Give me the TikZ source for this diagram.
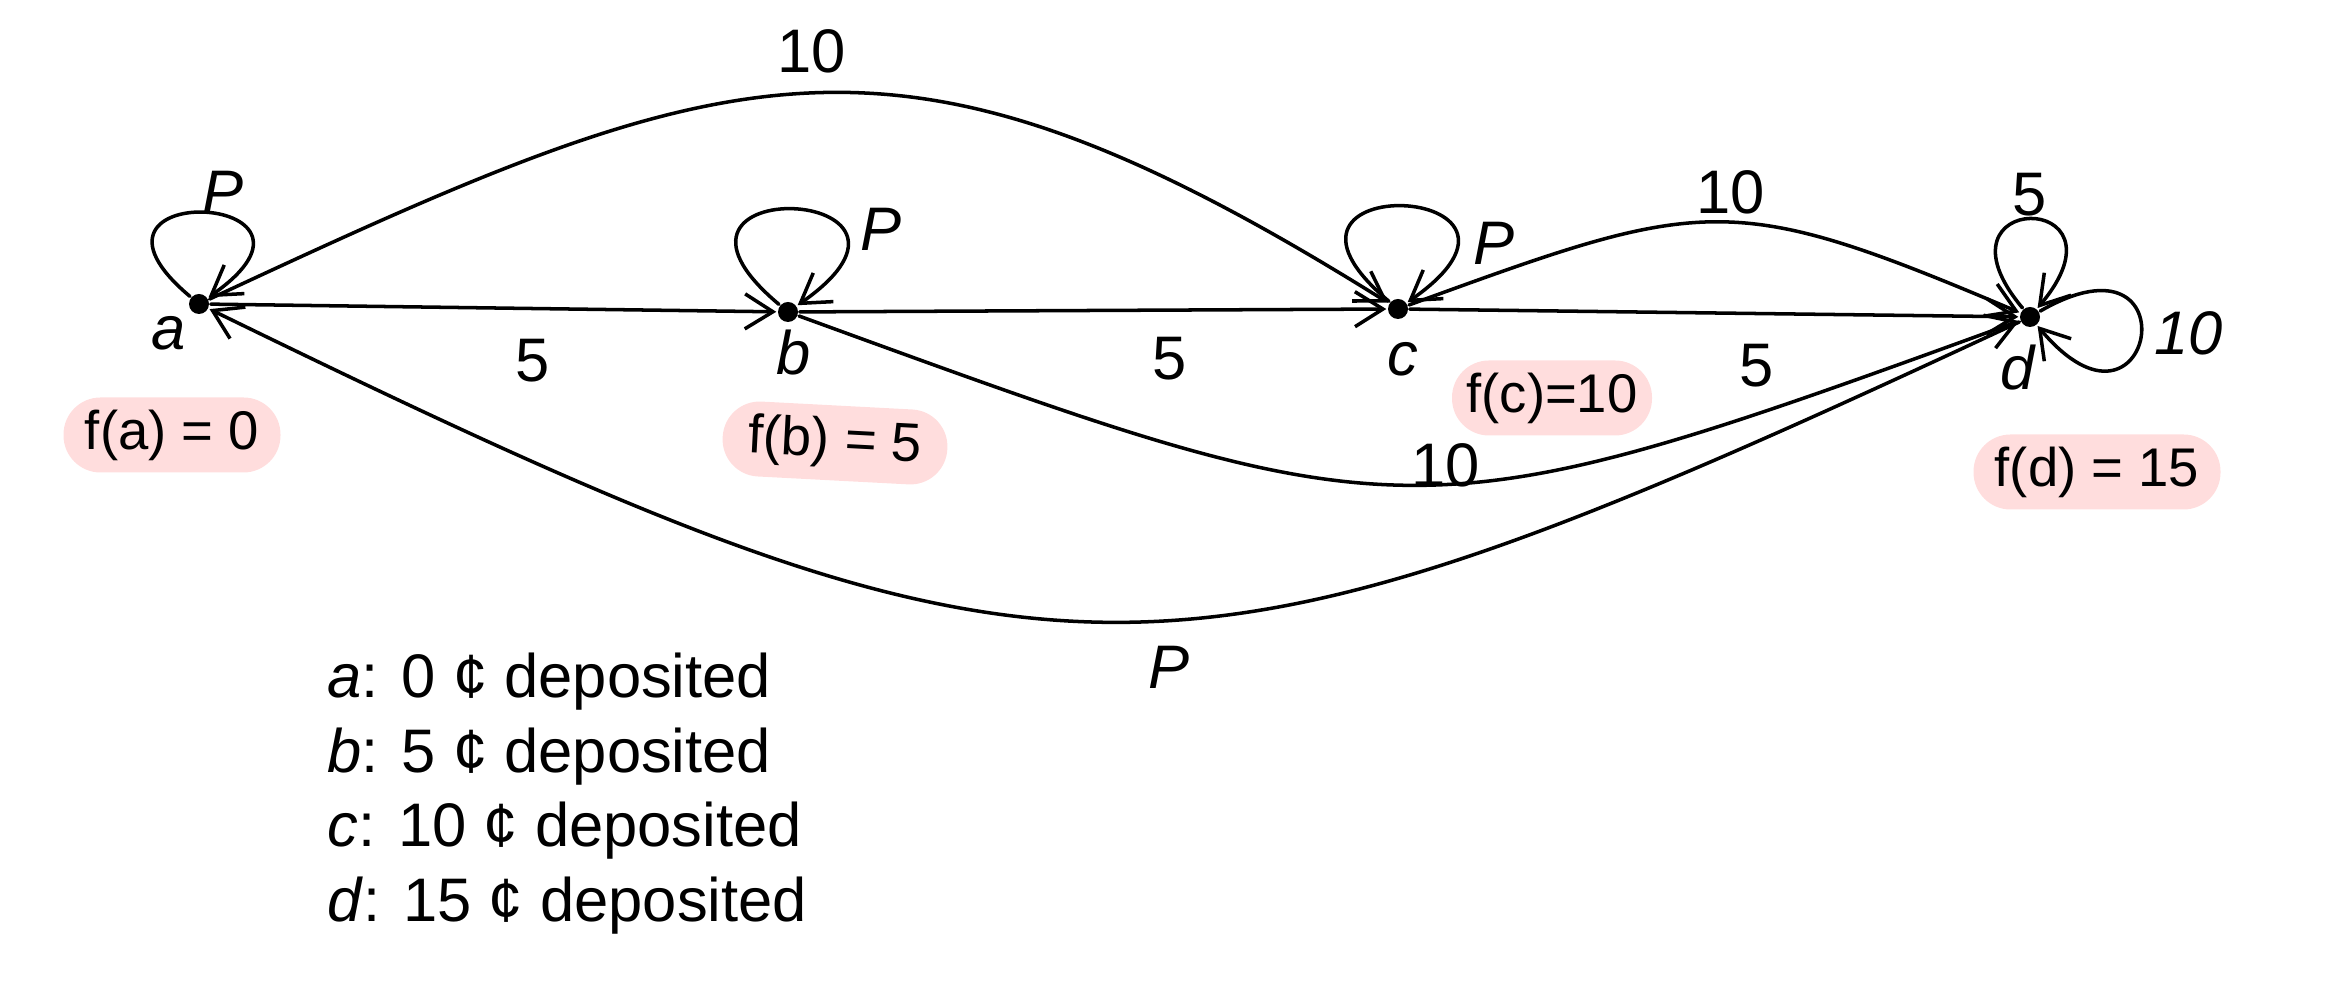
\documentclass[tikz,border=0pt]{standalone}
\usepackage{fontspec}
\setmainfont{Liberation Sans}
\usetikzlibrary{arrows.meta}
\definecolor{hongnhat}{RGB}{255,221,221}

\begin{document}
\begin{tikzpicture}[x=1cm, y=1cm, line width=1pt, line join=round, line cap=round,
    >={Straight Barb[length=2.8mm, width=3.5mm]},
    font=\fontsize{17.5}{21}\selectfont,
    dinh/.style={circle, fill=black, inner sep=0pt, minimum size=2mm},
    nhan/.style={inner sep=1pt},
    ghichu/.style={fill=hongnhat, rounded corners=3.7mm, minimum height=7.5mm, inner sep=2pt, font=\fontsize{15.5}{18}\selectfont}]
    \useasboundingbox (0,0) rectangle (23.48,10);

    % Các trạng thái
    \node[dinh] (a) at (1.99,6.96) {};
    \node[dinh] (b) at (7.88,6.88) {};
    \node[dinh] (c) at (13.98,6.91) {};
    \node[dinh] (d) at (20.30,6.83) {};
    \node[nhan] (ta) at (1.69,6.67) {\textit{a}};
    \node[nhan] (tb) at (7.94,6.47) {\textit{b}};
    \node[nhan] (tc) at (14.03,6.41) {\textit{c}};
    \node[nhan] (td) at (20.18,6.32) {\textit{d}};

    % Giá trị f tại mỗi trạng thái
    \node[ghichu, minimum width=2.17cm] (fa) at (1.72,5.65) {f(a) = 0};
    \node[ghichu, minimum width=2.25cm, rotate=-3] (fb) at (8.35,5.57) {f(b) = 5};
    \node[ghichu, minimum width=2.00cm] (fc) at (15.52,6.02) {f(c)=10};
    \node[ghichu, minimum width=2.47cm] (fd) at (20.97,5.28) {f(d) = 15};

    % Các cạnh thẳng (bỏ 5 xu)
    \draw[->] (a) -- node[pos=0.57, below=5pt] {5} (b);
    \draw[->] (b) -- node[pos=0.63, below=4pt] {5} (c);
    \draw[->] (c) -- node[pos=0.57, below=5pt] {5} (d);

    % Các cạnh cong (bỏ 10 xu, nhấn P)
    \draw[->] (a) to[out=25, in=148, looseness=1.26] node[pos=0.5, above=2pt] {10} (c);
    \draw[->] (c) to[out=20, in=157, looseness=1.32] node[pos=0.53, above=-1.5pt] {10} (d);
    \draw[->] (b) to[out=-20, in=200, looseness=1.36] node[pos=0.54, above=-4.5pt] {10} (d);
    \draw[->] (d) to[out=205, in=-26, looseness=1.34] node[pos=0.46, below=3.5pt] {\textit{P}} (a);

    % Các vòng lặp
    \draw[->] (a) to[out=140, in=35, min distance=1.85cm] node[pos=0.5, above=-4pt, xshift=2mm] {\textit{P}} (a);
    \draw[->] (b) to[out=140, in=35, min distance=2.1cm] node[pos=0.6, right=8pt, yshift=-1.5mm] {\textit{P}} (b);
    \draw[->] (c) to[out=140, in=35, min distance=2.1cm] node[pos=0.7, right=3pt, yshift=-2mm] {\textit{P}} (c);
    \draw[->] (d) to[out=130, in=50, min distance=1.55cm] node[pos=0.5, above=-3pt] {5} (d);
    \draw[->] (d) to[out=30, in=-50, min distance=1.8cm] node[pos=0.5, right=0pt, yshift=0.3mm] {\textit{10}} (d);

    % Chú thích
    \foreach \s/\v [count=\i] in {a/0, b/5, c/10, d/15}
        \node[anchor=base west, inner sep=0pt] (ghi\i) at (3.26,{3.02-0.745*(\i-1)}) {\textit{\s}: \v~¢ deposited};
\end{tikzpicture}
\end{document}
